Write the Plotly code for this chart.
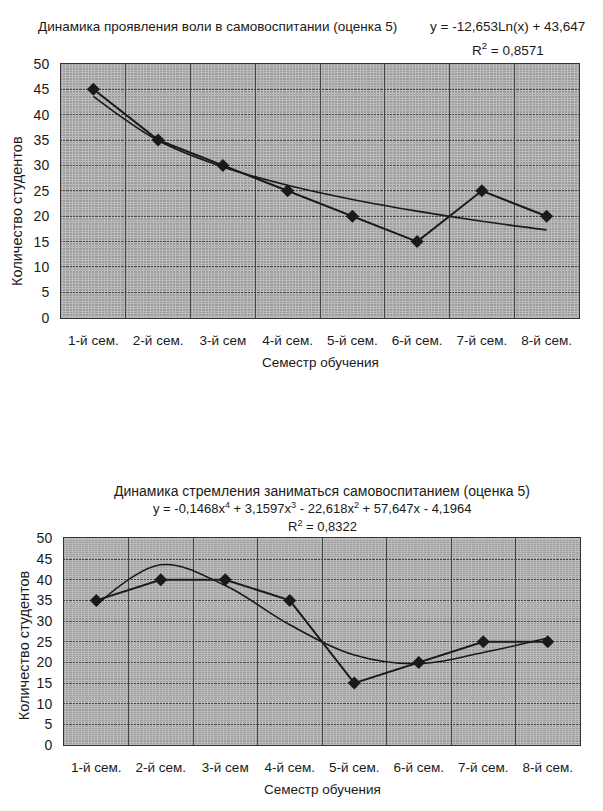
import plotly.graph_objects as go

# ---------------- data ----------------
semesters = ["1-й сем.", "2-й сем.", "3-й сем", "4-й сем.", "5-й сем.", "6-й сем.", "7-й сем.", "8-й сем."]

# chart 1: Динамика проявления воли в самовоспитании
will_values = [45, 35, 30, 25, 20, 15, 25, 20]
will_trend = [43.6, 34.9, 29.7, 26.1, 23.3, 21.0, 19.0, 17.3]

# chart 2: Динамика стремления заниматься самовоспитанием
aspire_values = [35, 40, 40, 35, 15, 20, 25, 25]
aspire_trend = [33.8, 43.6, 38.6, 29.1, 21.8, 19.7, 22.4, 25.9]

y_ticks = [0, 5, 10, 15, 20, 25, 30, 35, 40, 45, 50]

title1 = "Динамика проявления воли в самовоспитании (оценка 5)"
eq1 = "y = -12,653Ln(x) + 43,647"
r2_1 = "R<sup>2</sup> = 0,8571"
title2 = "Динамика стремления заниматься самовоспитанием (оценка 5)"
eq2 = "y = -0,1468x<sup>4</sup> + 3,1597x<sup>3</sup> - 22,618x<sup>2</sup> + 57,647x - 4,1964"
r2_2 = "R<sup>2</sup> = 0,8322"
y_title = "Количество студентов"
x_title = "Семестр обучения"

# ---------------- styling ----------------
W, H = 603, 811
FONT = "Liberation Sans, Arial, sans-serif"
INK = "#1a1a1a"
BG = "#9c9c9c"
TEXTURE = "#bababa"
GRID = "#444444"


def px(x):
    return x / W


def py(y):
    return 1 - y / H


fig = go.Figure()

# empty traces that only carry the fine "screen" texture axes
for xa, ya in [("x3", "y"), ("x4", "y2")]:
    fig.add_trace(go.Scatter(x=[], y=[], xaxis=xa, yaxis=ya, showlegend=False, hoverinfo="skip"))

for vals, trend, xa, ya in [(will_values, will_trend, "x", "y"),
                            (aspire_values, aspire_trend, "x2", "y2")]:
    fig.add_trace(go.Scatter(x=semesters, y=trend, mode="lines", xaxis=xa, yaxis=ya,
                             line=dict(color=INK, width=1.6, shape="spline", smoothing=1.0),
                             showlegend=False, hoverinfo="skip"))
    fig.add_trace(go.Scatter(x=semesters, y=vals, mode="lines+markers", xaxis=xa, yaxis=ya,
                             line=dict(color=INK, width=2),
                             marker=dict(symbol="diamond", size=10, color=INK),
                             showlegend=False))

common_x = dict(type="category", tickson="boundaries", showgrid=True, gridcolor=GRID, gridwidth=1,
                ticks="", showline=True, linecolor="#333", linewidth=1, mirror=True,
                tickfont=dict(family=FONT, size=13.5, color=INK), ticklabelstandoff=10,
                range=[-0.5, 7.5], fixedrange=True, layer="above traces")
common_y = dict(range=[0, 50], tickvals=y_ticks, showgrid=True, gridcolor=GRID, gridwidth=1,
                ticks="", showline=True, linecolor="#333", linewidth=1, mirror=True,
                tickfont=dict(family=FONT, size=14, color=INK), ticklabelstandoff=8,
                zeroline=False, fixedrange=True,
                minor=dict(dtick=0.5, tick0=0.25, showgrid=True, gridcolor=TEXTURE, gridwidth=1))
texture_x = dict(type="linear", range=[0.5, 8.5], tick0=0.525, dtick=0.05, showgrid=True,
                 gridcolor=TEXTURE, gridwidth=1, showticklabels=False, ticks="",
                 showline=False, zeroline=False, fixedrange=True)

fig.update_layout(
    width=W, height=H,
    margin=dict(l=0, r=0, t=0, b=0),
    paper_bgcolor="white",
    plot_bgcolor=BG,
    xaxis=dict(domain=[px(61), px(579)], anchor="y", **common_x),
    yaxis=dict(domain=[py(316), py(57)], anchor="x", **common_y),
    xaxis2=dict(domain=[px(64), px(580)], anchor="y2", **common_x),
    yaxis2=dict(domain=[py(752), py(541)], anchor="x2", **common_y),
    xaxis3=dict(overlaying="x", anchor="y", **texture_x),
    xaxis4=dict(overlaying="x2", anchor="y2", **texture_x),
)

ann = []


def add(text, x, y, size=13, xanchor="center", angle=0):
    ann.append(dict(text=text, x=px(x), y=py(y), xref="paper", yref="paper",
                    xanchor=xanchor, yanchor="middle", showarrow=False, textangle=angle,
                    font=dict(family=FONT, size=size, color=INK)))


# chart 1 texts
add(title1, 36, 19, size=13.5, xanchor="left")
add(eq1, 428, 19, size=13.5, xanchor="left")
add(r2_1, 508, 42, size=13.5)
add(y_title, 17, 207, size=14.5, angle=-90)
add(x_title, 320, 362, size=13.5)

# chart 2 texts
add(title2, 322, 493, size=14)
add(eq2, 312, 510, size=13)
add(r2_2, 322, 528, size=13)
add(y_title, 24, 650, size=14.5, angle=-90)
add(x_title, 322, 797, size=13.5)

fig.update_layout(annotations=ann)

fig.write_html(
    "out.html",
    config={"displayModeBar": False},
    post_script="document.body.style.margin='0';document.body.style.overflow='hidden';",
)
